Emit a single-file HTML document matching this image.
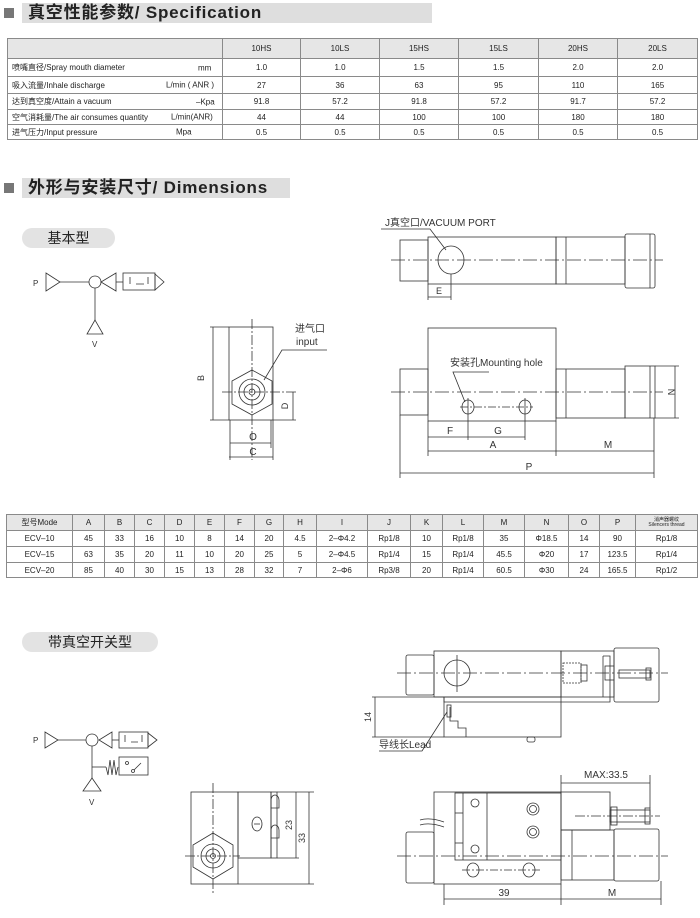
<!DOCTYPE html>
<html><head><meta charset="utf-8">
<style>
body{margin:0;width:700px;height:918px;background:#fff;position:relative;overflow:hidden;font-family:"Liberation Sans","Noto Sans CJK SC",sans-serif;color:#222}
.hdr{position:absolute;background:#dedede;height:20px;font-weight:bold;font-size:17px;line-height:20px;padding-left:6px;letter-spacing:0.8px;white-space:nowrap}
.sq{position:absolute;width:10px;height:10px;background:#777}
.pill{position:absolute;background:#e3e3e3;border-radius:10px;height:20px;line-height:20px;font-size:14px;text-align:center}
table{border-collapse:collapse;position:absolute;table-layout:fixed;font-size:8px}
td{border:1px solid #8a8a8a;text-align:center;padding:0;white-space:nowrap;overflow:hidden}
#spec td{font-size:8px}
#spec tr.h td{background:#e6e6e6}
#spec td.l{text-align:left;padding-left:4px;position:relative}
#spec td.l span{position:absolute;top:50%;transform:translateY(-50%)}
#dim tr.h td{background:#e6e6e6}
svg{position:absolute;left:0;top:0}
</style></head><body>
<div class="sq" style="left:4px;top:8px"></div>
<div class="hdr" style="left:22px;top:3px;width:404px">真空性能参数/ Specification</div>

<table id="spec" style="left:7px;top:38px;width:690px">
<colgroup><col style="width:215px"><col style="width:78px"><col style="width:79px"><col style="width:79px"><col style="width:80px"><col style="width:79px"><col style="width:80px"></colgroup>
<tr class="h" style="height:20px"><td></td><td>10HS</td><td>10LS</td><td>15HS</td><td>15LS</td><td>20HS</td><td>20LS</td></tr>
<tr style="height:18px"><td class="l">喷嘴直径/Spray mouth diameter<span style="left:190px">mm</span></td><td>1.0</td><td>1.0</td><td>1.5</td><td>1.5</td><td>2.0</td><td>2.0</td></tr>
<tr style="height:17px"><td class="l">吸入流量/Inhale discharge<span style="left:158px">L/min ( ANR )</span></td><td>27</td><td>36</td><td>63</td><td>95</td><td>110</td><td>165</td></tr>
<tr style="height:16px"><td class="l">达到真空度/Attain a vacuum<span style="left:188px">–Kpa</span></td><td>91.8</td><td>57.2</td><td>91.8</td><td>57.2</td><td>91.7</td><td>57.2</td></tr>
<tr style="height:15px"><td class="l">空气消耗量/The air consumes quantity<span style="left:163px">L/min(ANR)</span></td><td>44</td><td>44</td><td>100</td><td>100</td><td>180</td><td>180</td></tr>
<tr style="height:15px"><td class="l">进气压力/Input  pressure<span style="left:168px">Mpa</span></td><td>0.5</td><td>0.5</td><td>0.5</td><td>0.5</td><td>0.5</td><td>0.5</td></tr>
</table>

<div class="sq" style="left:4px;top:183px"></div>
<div class="hdr" style="left:22px;top:178px;width:262px">外形与安装尺寸/ Dimensions</div>
<div class="pill" style="left:22px;top:228px;width:93px">基本型</div>
<div class="pill" style="left:22px;top:632px;width:136px">带真空开关型</div>

<table id="dim" style="left:6px;top:514px;width:691px">
<colgroup><col style="width:66px"><col style="width:32px"><col style="width:30px"><col style="width:30px"><col style="width:30px"><col style="width:30px"><col style="width:30px"><col style="width:29px"><col style="width:33px"><col style="width:51px"><col style="width:43px"><col style="width:32px"><col style="width:41px"><col style="width:41px"><col style="width:44px"><col style="width:31px"><col style="width:36px"><col style="width:62px"></colgroup>
<tr class="h" style="height:16px"><td>型号Mode</td><td>A</td><td>B</td><td>C</td><td>D</td><td>E</td><td>F</td><td>G</td><td>H</td><td>I</td><td>J</td><td>K</td><td>L</td><td>M</td><td>N</td><td>O</td><td>P</td><td style="font-size:5px;line-height:5px">消声器螺纹<br>Silencers thread</td></tr>
<tr style="height:16px"><td>ECV–10</td><td>45</td><td>33</td><td>16</td><td>10</td><td>8</td><td>14</td><td>20</td><td>4.5</td><td>2–Φ4.2</td><td>Rp1/8</td><td>10</td><td>Rp1/8</td><td>35</td><td>Φ18.5</td><td>14</td><td>90</td><td>Rp1/8</td></tr>
<tr style="height:16px"><td>ECV–15</td><td>63</td><td>35</td><td>20</td><td>11</td><td>10</td><td>20</td><td>25</td><td>5</td><td>2–Φ4.5</td><td>Rp1/4</td><td>15</td><td>Rp1/4</td><td>45.5</td><td>Φ20</td><td>17</td><td>123.5</td><td>Rp1/4</td></tr>
<tr style="height:15px"><td>ECV–20</td><td>85</td><td>40</td><td>30</td><td>15</td><td>13</td><td>28</td><td>32</td><td>7</td><td>2–Φ6</td><td>Rp3/8</td><td>20</td><td>Rp1/4</td><td>60.5</td><td>Φ30</td><td>24</td><td>165.5</td><td>Rp1/2</td></tr>
</table>

<svg width="700" height="918" viewBox="0 0 700 918" font-family="Liberation Sans, Noto Sans CJK SC, sans-serif" fill="none" stroke="#333" stroke-width="0.8">
<g>
<text x="33" y="286" font-size="8" fill="#333" stroke="none">P</text>
<polygon points="46,273 60,282 46,291"/>
<line x1="60" y1="282" x2="89" y2="282"/>
<circle cx="95" cy="282" r="6"/>
<polygon points="116,273 101,282 116,291"/>
<line x1="116" y1="282" x2="123" y2="282"/>
<rect x="123" y="273" width="32" height="17"/>
<path d="M130,277 v7 M136,284 h8 M148,277 v7"/>
<polygon points="155,274 164,282 155,290"/>
<line x1="95" y1="288" x2="95" y2="320"/>
<polygon points="95,320 87,334 103,334"/>
<text x="92" y="347" font-size="8" fill="#333" stroke="none">V</text>
</g>
<g>
<rect x="229" y="327" width="44" height="93"/>
<line x1="210" y1="327" x2="229" y2="327"/><line x1="210" y1="420" x2="229" y2="420"/>
<line x1="213" y1="327" x2="213" y2="420"/>
<text x="204" y="378" font-size="9" fill="#333" stroke="none" transform="rotate(-90 204 378)" text-anchor="middle">B</text>
<polygon points="252,370 272,381 272,404 252,415 232,404 232,381"/>
<circle cx="252" cy="392" r="13"/><circle cx="252" cy="392" r="8"/><circle cx="252" cy="392" r="3"/>
<line x1="252" y1="319" x2="252" y2="460" stroke-dasharray="10,2,2,2"/>
<line x1="222" y1="392" x2="296" y2="392" stroke-dasharray="10,2,2,2"/>
<line x1="273" y1="420" x2="296" y2="420"/>
<line x1="293" y1="392" x2="293" y2="420"/>
<text x="288" y="406" font-size="9" fill="#333" stroke="none" transform="rotate(-90 288 406)" text-anchor="middle">D</text>
<line x1="230" y1="420" x2="230" y2="460"/><line x1="271" y1="420" x2="271" y2="448"/><line x1="273" y1="420" x2="273" y2="460"/>
<line x1="230" y1="443" x2="271" y2="443"/>
<text x="253" y="440" font-size="10" fill="#333" stroke="none" text-anchor="middle">O</text>
<line x1="229" y1="457" x2="273" y2="457"/>
<text x="253" y="455" font-size="10" fill="#333" stroke="none" text-anchor="middle">C</text>
<text x="295" y="332" font-size="10" fill="#333" stroke="none">进气口</text>
<text x="296" y="345" font-size="10" fill="#333" stroke="none">input</text>
<polyline points="264,380 282,350 327,350"/>
</g>
<g>
<text x="385" y="226" font-size="10" fill="#333" stroke="none">J真空口/VACUUM PORT</text>
<polyline points="381,229 430,229 446,250"/>
<rect x="400" y="240" width="28" height="41"/>
<rect x="428" y="237" width="128" height="47"/>
<rect x="556" y="237" width="69" height="47"/>
<line x1="566" y1="237" x2="566" y2="284"/>
<rect x="625" y="234" width="30" height="54" rx="2"/>
<line x1="650" y1="234" x2="650" y2="288"/>
<ellipse cx="451" cy="260" rx="13" ry="14"/>
<line x1="391" y1="260" x2="663" y2="260" stroke-dasharray="14,3,2,3"/>
<line x1="428" y1="284" x2="428" y2="300"/><line x1="451" y1="274" x2="451" y2="300"/>
<line x1="428" y1="297" x2="451" y2="297"/>
<text x="439" y="294" font-size="9" fill="#333" stroke="none" text-anchor="middle">E</text>
</g>
<g>
<rect x="428" y="328" width="128" height="93"/>
<rect x="400" y="369" width="28" height="46"/>
<rect x="556" y="369" width="69" height="49"/>
<line x1="566" y1="369" x2="566" y2="418"/>
<rect x="625" y="366" width="30" height="52"/>
<line x1="650" y1="366" x2="650" y2="418"/>
<line x1="391" y1="392" x2="663" y2="392" stroke-dasharray="14,3,2,3"/>
<ellipse cx="468" cy="407" rx="6" ry="7"/><ellipse cx="525" cy="407" rx="6" ry="7"/>
<line x1="460" y1="407" x2="533" y2="407" stroke-dasharray="8,2,2,2"/>
<line x1="468" y1="398" x2="468" y2="440"/><line x1="525" y1="398" x2="525" y2="440"/>
<text x="450" y="366" font-size="10" fill="#333" stroke="none">安装孔Mounting hole</text>
<polyline points="489,372 453,372 465,402"/>
<line x1="655" y1="366" x2="679" y2="366"/><line x1="655" y1="418" x2="679" y2="418"/>
<line x1="675" y1="366" x2="675" y2="418"/>
<text x="668" y="392" font-size="9" fill="#333" stroke="none" transform="rotate(90 668 392)" text-anchor="middle">N</text>
<line x1="428" y1="421" x2="428" y2="456"/><line x1="556" y1="421" x2="556" y2="456"/><line x1="654" y1="418" x2="654" y2="478"/><line x1="400" y1="415" x2="400" y2="478"/>
<line x1="428" y1="437" x2="525" y2="437"/>
<text x="450" y="434" font-size="10" fill="#333" stroke="none" text-anchor="middle">F</text>
<text x="498" y="434" font-size="10" fill="#333" stroke="none" text-anchor="middle">G</text>
<line x1="428" y1="451" x2="654" y2="451"/>
<text x="493" y="448" font-size="10" fill="#333" stroke="none" text-anchor="middle">A</text>
<text x="608" y="448" font-size="10" fill="#333" stroke="none" text-anchor="middle">M</text>
<line x1="400" y1="473" x2="654" y2="473"/>
<text x="529" y="470" font-size="10" fill="#333" stroke="none" text-anchor="middle">P</text>
</g>
<g>
<text x="33" y="743" font-size="8" fill="#333" stroke="none">P</text>
<polygon points="45,732 58,740 45,748"/>
<line x1="58" y1="740" x2="86" y2="740"/>
<circle cx="92" cy="740" r="6"/>
<polygon points="112,732 99,740 112,748"/>
<line x1="112" y1="740" x2="119" y2="740"/>
<rect x="119" y="732" width="29" height="16"/>
<path d="M125,735 v7 M131,742 h7 M142,735 v7"/>
<polygon points="148,733 157,740 148,747"/>
<line x1="92" y1="746" x2="92" y2="778"/>
<line x1="92" y1="767" x2="106" y2="767"/>
<polyline points="106,767 108,775 110,760 112,775 114,760 116,775 118,767"/>
<rect x="119" y="757" width="29" height="18"/>
<circle cx="127" cy="763" r="1.5"/><circle cx="133" cy="771" r="1.5"/><line x1="134" y1="770" x2="141" y2="763"/>
<polygon points="92,778 83,791 101,791"/>
<text x="89" y="805" font-size="8" fill="#333" stroke="none">V</text>
</g>
<g>
<rect x="191" y="792" width="47" height="92"/>
<rect x="238" y="792" width="33" height="66"/>
<rect x="271" y="792" width="6" height="66"/>
<line x1="277" y1="792" x2="314" y2="792"/><line x1="277" y1="858" x2="299" y2="858"/><line x1="238" y1="884" x2="314" y2="884"/>
<line x1="296" y1="792" x2="296" y2="858"/><line x1="309" y1="792" x2="309" y2="884"/>
<text x="292" y="825" font-size="9" fill="#333" stroke="none" transform="rotate(-90 292 825)" text-anchor="middle">23</text>
<text x="305" y="838" font-size="9" fill="#333" stroke="none" transform="rotate(-90 305 838)" text-anchor="middle">33</text>
<path d="M271,800 a4,5 0 0 1 8,0 v8 h-8 z M271,830 a4,5 0 0 1 8,0 v8 h-8 z"/>
<ellipse cx="257" cy="824" rx="5" ry="7"/><line x1="254" y1="824" x2="260" y2="824"/>
<polygon points="213,833 233,845 233,867 213,879 193,867 193,845"/>
<circle cx="213" cy="856" r="12"/><circle cx="213" cy="856" r="7"/><circle cx="213" cy="856" r="2.5"/>
<line x1="213" y1="783" x2="213" y2="895" stroke-dasharray="10,2,2,2"/>
<line x1="185" y1="856" x2="240" y2="856" stroke-dasharray="10,2,2,2"/>
</g>
<g>
<rect x="406" y="655" width="28" height="40" rx="2"/>
<rect x="434" y="651" width="127" height="46"/>
<rect x="561" y="651" width="53" height="46"/>
<rect x="614" y="648" width="45" height="54" rx="2"/>
<circle cx="457" cy="673" r="13"/>
<line x1="457" y1="655" x2="457" y2="692"/>
<line x1="397" y1="673" x2="668" y2="673" stroke-dasharray="14,3,2,3"/>
<rect x="563" y="663" width="18" height="20" stroke-dasharray="2,1"/>
<rect x="581" y="665" width="6" height="16"/>
<polyline points="603,656 610,656 610,702 444,702 444,697"/>
<line x1="603" y1="656" x2="603" y2="697"/>
<rect x="605" y="666" width="9" height="14"/>
<rect x="619" y="670" width="31" height="8"/>
<rect x="646" y="668" width="5" height="12"/>
<rect x="444" y="697" width="117" height="40"/>
<rect x="527" y="737" width="8" height="5" rx="2"/>
<polyline points="450,707 450,721 458,721 458,728 466,728 466,737"/>
<rect x="447" y="705" width="4" height="12"/>
<line x1="372" y1="697" x2="444" y2="697"/><line x1="372" y1="737" x2="444" y2="737"/>
<line x1="375" y1="697" x2="375" y2="737"/>
<text x="371" y="717" font-size="9" fill="#333" stroke="none" transform="rotate(-90 371 717)" text-anchor="middle">14</text>
<text x="379" y="748" font-size="10" fill="#333" stroke="none">导线长Lead</text>
<polyline points="379,751 422,751 447,712"/>
</g>
<g>
<rect x="434" y="792" width="127" height="92"/>
<rect x="406" y="832" width="28" height="51" rx="2"/>
<rect x="455" y="793" width="106" height="67"/>
<line x1="487" y1="793" x2="487" y2="860"/>
<line x1="455" y1="813" x2="463" y2="813"/><line x1="455" y1="843" x2="463" y2="843"/><line x1="463" y1="793" x2="463" y2="860"/>
<rect x="561" y="792" width="49" height="38"/>
<rect x="561" y="830" width="53" height="50"/>
<line x1="572" y1="830" x2="572" y2="880"/>
<rect x="614" y="829" width="45" height="52" rx="2"/>
<rect x="610" y="810" width="40" height="12"/>
<rect x="611" y="807" width="6" height="18"/><rect x="645" y="808" width="5" height="16"/>
<path d="M420,820 q10,-3 24,2 M420,825 q10,-3 24,2" />
<circle cx="475" cy="803" r="4"/><circle cx="475" cy="849" r="4"/>
<circle cx="533" cy="809" r="6"/><circle cx="533" cy="809" r="3.5"/>
<circle cx="533" cy="832" r="6"/><circle cx="533" cy="832" r="3.5"/>
<ellipse cx="473" cy="870" rx="6" ry="7"/><ellipse cx="529" cy="870" rx="6" ry="7"/>
<line x1="462" y1="870" x2="540" y2="870" stroke-dasharray="8,2,2,2"/>
<line x1="397" y1="856" x2="668" y2="856" stroke-dasharray="14,3,2,3"/>
<line x1="575" y1="816" x2="660" y2="816" stroke-dasharray="10,2,2,2"/>
<line x1="561" y1="775" x2="561" y2="792"/><line x1="650" y1="775" x2="650" y2="808"/>
<line x1="561" y1="783" x2="650" y2="783"/>
<text x="606" y="778" font-size="10" fill="#333" stroke="none" text-anchor="middle">MAX:33.5</text>
<line x1="444" y1="884" x2="444" y2="905"/><line x1="561" y1="884" x2="561" y2="905"/><line x1="661" y1="881" x2="661" y2="905"/>
<line x1="444" y1="899" x2="661" y2="899"/>
<text x="504" y="896" font-size="10" fill="#333" stroke="none" text-anchor="middle">39</text>
<text x="612" y="896" font-size="10" fill="#333" stroke="none" text-anchor="middle">M</text>
</g>
</svg>
</body></html>
